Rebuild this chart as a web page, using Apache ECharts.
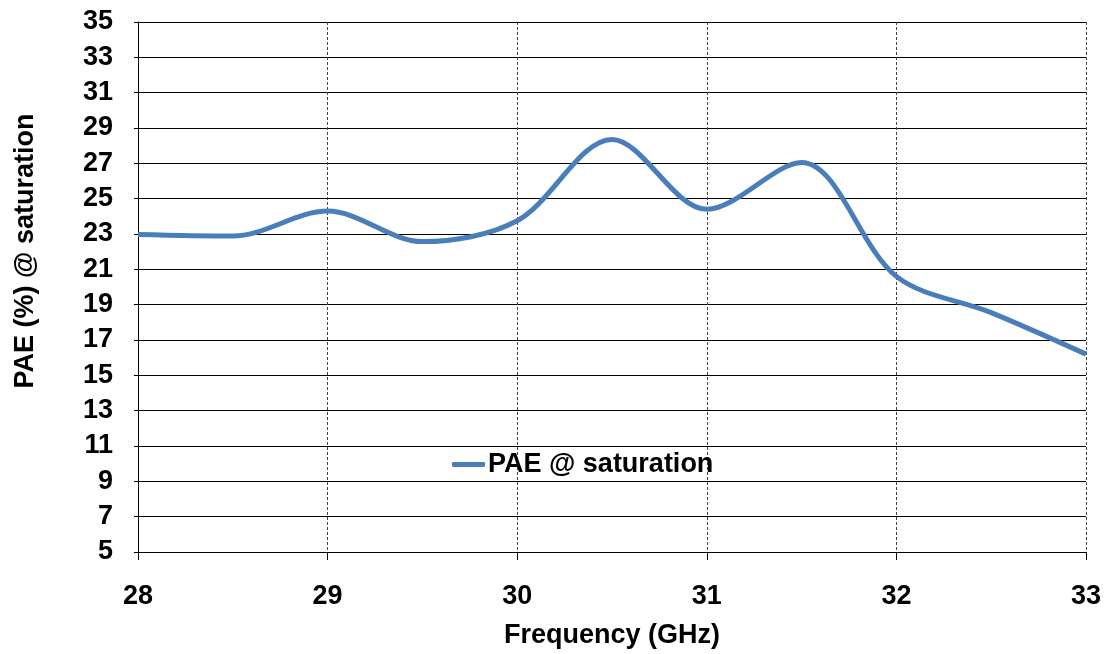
<!DOCTYPE html>
<html>
<head>
<meta charset="utf-8">
<script src="https://cdn.jsdelivr.net/npm/echarts@6/dist/echarts.min.js"></script>
<style>html,body{margin:0;padding:0;background:#fff}#c{width:1107px;height:654px}</style>
</head>
<body>
<div id="c"></div>
<script>
const freq = [28.0, 28.5, 29.0, 29.5, 30.0, 30.5, 31.0, 31.5, 32.0, 32.5, 33.0];
const pae  = [22.97, 22.88, 24.3, 22.57, 23.75, 28.35, 24.4, 27.05, 20.6, 18.55, 16.2];
const seriesName = 'PAE @ saturation';
const xTitle = 'Frequency (GHz)';
const yTitle = 'PAE (%) @ saturation';

const font = 'Liberation Sans, Arial, sans-serif';
const FS = 27;
const chart = echarts.init(document.getElementById('c'), null, {renderer: 'canvas'});
chart.setOption({
  animation: false,
  backgroundColor: '#fff',
  grid: {left: 138, right: 21, top: 22, bottom: 100, containLabel: false},
  legend: {
    data: [seriesName], left: 447, top: 446,
    icon: 'roundRect', itemWidth: 33, itemHeight: 5,
    textStyle: {fontFamily: font, fontWeight: 'bold', fontSize: FS, color: '#000', padding: [0,0,0,-2]}
  },
  xAxis: {
    type: 'value', min: 28, max: 33, interval: 1,
    name: xTitle, nameLocation: 'middle', nameGap: 70,
    nameTextStyle: {fontFamily: font, fontWeight: 'bold', fontSize: FS, color: '#000'},
    axisLine: {show: true, lineStyle: {color: '#000', width: 1}},
    axisTick: {show: true, length: 8, inside: false, lineStyle: {color: '#000'}},
    axisLabel: {fontFamily: font, fontWeight: 'bold', fontSize: FS, color: '#000', margin: 31},
    splitLine: {show: true, lineStyle: {color: '#444', type: [3, 2], width: 1}}
  },
  yAxis: {
    type: 'value', min: 5, max: 35, interval: 2,
    axisLine: {show: true, lineStyle: {color: '#000', width: 1}},
    axisTick: {show: true, length: 4, lineStyle: {color: '#000'}},
    axisLabel: {fontFamily: font, fontWeight: 'bold', fontSize: FS, color: '#000', margin: 25},
    splitLine: {show: true, lineStyle: {color: '#000', width: 1}}
  },
  graphic: [{
    type: 'text', x: 26, y: 251, rotation: Math.PI / 2,
    style: {text: yTitle, font: 'bold ' + FS + 'px ' + font, fill: '#000', align: 'center', verticalAlign: 'middle'}
  }],
  series: [{
    name: seriesName, type: 'line', smooth: 0.33, symbol: 'none',
    data: freq.map((f, i) => [f, pae[i]]),
    lineStyle: {color: '#4a7ebb', width: 5},
    itemStyle: {color: '#4a7ebb'}
  }]
});
</script>
</body>
</html>
